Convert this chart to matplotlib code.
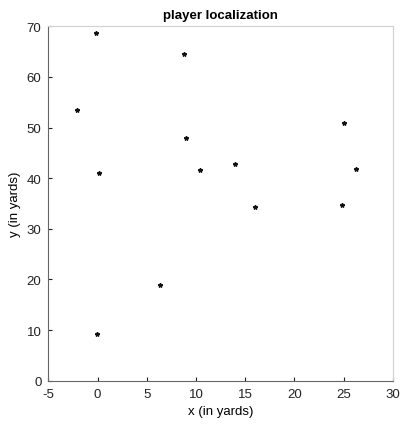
import matplotlib
matplotlib.use("Agg")
import matplotlib.pyplot as plt

plt.rcParams['font.family'] = ['Liberation Sans', 'DejaVu Sans']
plt.rcParams['axes.unicode_minus'] = False

# player positions
x_yards = [-0.2, -2.1, 0.1, 8.8, 9.0, 10.4, 14.0, 16.0, 25.0, 26.3, 24.8, 6.3, -0.1]
y_yards = [68.6, 53.5, 41.1, 64.5, 47.9, 41.6, 42.8, 34.3, 50.9, 41.8, 34.8, 18.9, 9.3]

fig = plt.figure(figsize=(4.03, 4.31), dpi=100)
ax = fig.add_axes([0.12, 0.1144, 0.855, 0.8223])

ax.plot(x_yards, y_yards, linestyle='none', marker='*', markersize=3.2, color='#111111')

ax.set_xlim(-5, 30)
ax.set_ylim(0, 70)
ax.set_xticks(range(-5, 31, 5))
ax.set_yticks(range(0, 71, 10))
ax.tick_params(direction='in', length=3, labelsize=9.5, colors='#222222', pad=5)
for s in ax.spines.values():
    s.set_linewidth(0.8)
    s.set_color('#666666')
ax.spines['top'].set_color('#d0d0d0')
ax.spines['right'].set_color('#d0d0d0')

ax.set_title('player localization', fontsize=9.5, fontweight='bold', pad=6)
ax.set_xlabel('x (in yards)', fontsize=9.5, labelpad=4)
ax.set_ylabel('y (in yards)', fontsize=9.5)

plt.savefig('out.png', dpi=100)
plt.clf()
